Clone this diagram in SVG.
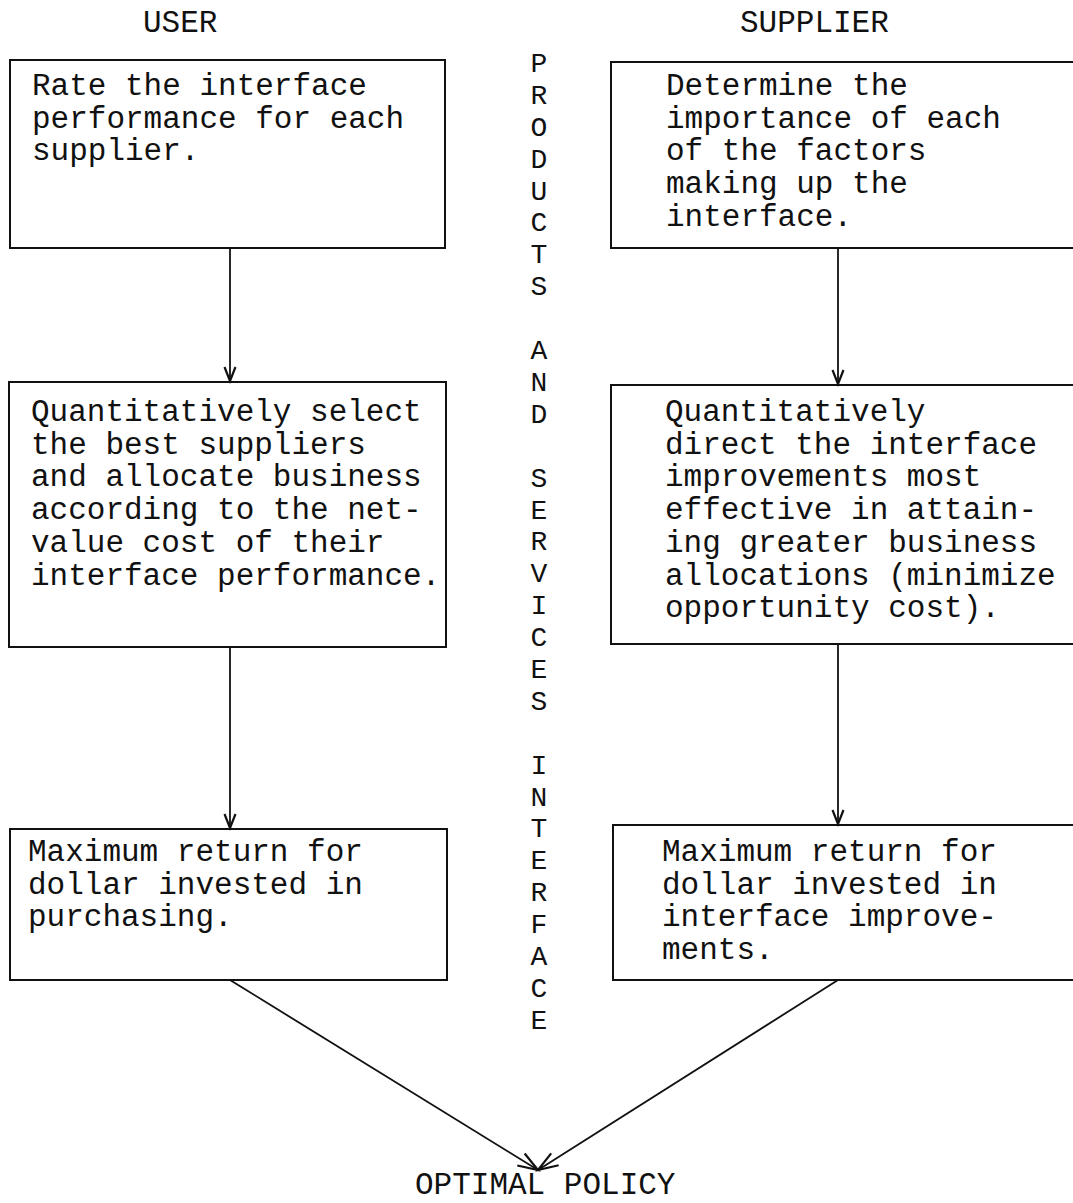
<svg xmlns="http://www.w3.org/2000/svg" width="1073" height="1203" viewBox="0 0 1073 1203">
  <style>
    .t { font-family: "Liberation Mono", "Courier New", monospace; font-size: 31px; fill: #111; }
    .v { font-family: "Liberation Mono", "Courier New", monospace; font-size: 28px; fill: #111; text-anchor: middle; }
    .box { fill: none; stroke: #111; stroke-width: 2; }
    .conn { fill: none; stroke: #111; stroke-width: 1.8; }
  </style>
  <defs>
    <marker id="arr" markerUnits="userSpaceOnUse" markerWidth="20" markerHeight="16" viewBox="-16 -8 18 16" refX="0" refY="0" orient="auto">
      <path d="M -14 -5.5 L 0 0 L -14 5.5" fill="none" stroke="#111" stroke-width="2.2"/>
    </marker>
    <marker id="arr2" markerUnits="userSpaceOnUse" markerWidth="26" markerHeight="20" viewBox="-22 -10 24 20" refX="0" refY="0" orient="auto">
      <path d="M -20 -7 L 0 0 L -20 7" fill="none" stroke="#111" stroke-width="2.2"/>
    </marker>
  </defs>
  <rect x="0" y="0" width="1073" height="1203" fill="#fff"/>

  <text class="t" x="143" y="32">USER</text>
  <text class="t" x="740" y="32">SUPPLIER</text>

  <g id="interface-label">
    <text class="v" x="539" y="72">P</text>
    <text class="v" x="539" y="104">R</text>
    <text class="v" x="539" y="136">O</text>
    <text class="v" x="539" y="168">D</text>
    <text class="v" x="539" y="200">U</text>
    <text class="v" x="539" y="231">C</text>
    <text class="v" x="539" y="263">T</text>
    <text class="v" x="539" y="295">S</text>
    <text class="v" x="539" y="359">A</text>
    <text class="v" x="539" y="391">N</text>
    <text class="v" x="539" y="423">D</text>
    <text class="v" x="539" y="487">S</text>
    <text class="v" x="539" y="519">E</text>
    <text class="v" x="539" y="550">R</text>
    <text class="v" x="539" y="582">V</text>
    <text class="v" x="539" y="614">I</text>
    <text class="v" x="539" y="646">C</text>
    <text class="v" x="539" y="678">E</text>
    <text class="v" x="539" y="710">S</text>
    <text class="v" x="539" y="774">I</text>
    <text class="v" x="539" y="806">N</text>
    <text class="v" x="539" y="837">T</text>
    <text class="v" x="539" y="869">E</text>
    <text class="v" x="539" y="901">R</text>
    <text class="v" x="539" y="933">F</text>
    <text class="v" x="539" y="965">A</text>
    <text class="v" x="539" y="997">C</text>
    <text class="v" x="539" y="1029">E</text>
  </g>

  <g id="user-rate">
    <rect class="box" x="10" y="60" width="435" height="188"/>
    <text class="t" x="32" y="95">Rate the interface</text>
    <text class="t" x="32" y="128">performance for each</text>
    <text class="t" x="32" y="160">supplier.</text>
  </g>

  <g id="supplier-determine">
    <rect class="box" x="611" y="62" width="480" height="186"/>
    <text class="t" x="666" y="95">Determine the</text>
    <text class="t" x="666" y="128">importance of each</text>
    <text class="t" x="666" y="160">of the factors</text>
    <text class="t" x="666" y="193">making up the</text>
    <text class="t" x="666" y="226">interface.</text>
  </g>

  <g id="user-select">
    <rect class="box" x="9" y="382" width="437" height="265"/>
    <text class="t" x="31" y="421">Quantitatively select</text>
    <text class="t" x="31" y="454">the best suppliers</text>
    <text class="t" x="31" y="486">and allocate business</text>
    <text class="t" x="31" y="519">according to the net-</text>
    <text class="t" x="31" y="552">value cost of their</text>
    <text class="t" x="31" y="585">interface performance.</text>
  </g>

  <g id="supplier-direct">
    <rect class="box" x="611" y="385" width="480" height="259"/>
    <text class="t" x="665" y="421">Quantitatively</text>
    <text class="t" x="665" y="454">direct the interface</text>
    <text class="t" x="665" y="486">improvements most</text>
    <text class="t" x="665" y="519">effective in attain-</text>
    <text class="t" x="665" y="552">ing greater business</text>
    <text class="t" x="665" y="585">allocations (minimize</text>
    <text class="t" x="665" y="617">opportunity cost).</text>
  </g>

  <g id="user-return">
    <rect class="box" x="10" y="829" width="437" height="151"/>
    <text class="t" x="28" y="861">Maximum return for</text>
    <text class="t" x="28" y="894">dollar invested in</text>
    <text class="t" x="28" y="926">purchasing.</text>
  </g>

  <g id="supplier-return">
    <rect class="box" x="613" y="825" width="480" height="155"/>
    <text class="t" x="662" y="861">Maximum return for</text>
    <text class="t" x="662" y="894">dollar invested in</text>
    <text class="t" x="662" y="926">interface improve-</text>
    <text class="t" x="662" y="959">ments.</text>
  </g>

  <g id="optimal-policy">
    <text class="t" x="415" y="1194">OPTIMAL POLICY</text>
  </g>

  <g id="connectors">
    <line class="conn" x1="230" y1="248" x2="230" y2="381" marker-end="url(#arr)"/>
    <line class="conn" x1="838" y1="248" x2="838" y2="384" marker-end="url(#arr)"/>
    <line class="conn" x1="230" y1="647" x2="230" y2="828" marker-end="url(#arr)"/>
    <line class="conn" x1="838" y1="644" x2="838" y2="824" marker-end="url(#arr)"/>
    <line class="conn" x1="230" y1="980" x2="538" y2="1170" marker-end="url(#arr2)"/>
    <line class="conn" x1="838" y1="980" x2="538" y2="1170" marker-end="url(#arr2)"/>
  </g>
</svg>
